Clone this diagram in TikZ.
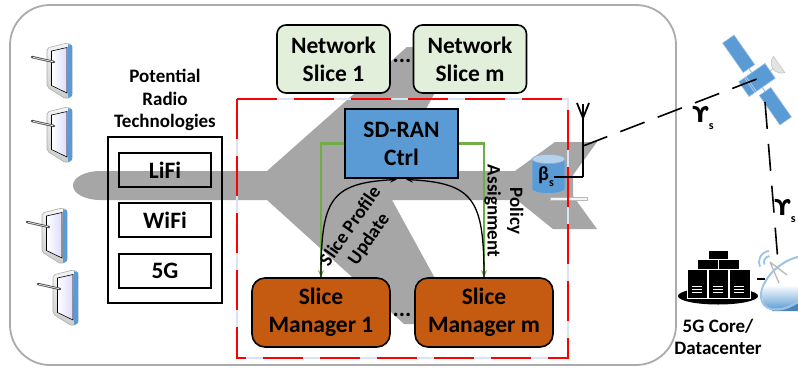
\documentclass[tikz,border=0pt]{standalone}
\usepackage{fontspec}
\setmainfont{Carlito}
\newfontfamily\greekfont{DejaVu Sans}
\usetikzlibrary{arrows.meta}
\definecolor{slicegreen}{HTML}{E2EFDA}
\definecolor{ctrlblue}{HTML}{5B9BD5}
\definecolor{mgrorange}{HTML}{C55A11}
\definecolor{linkgreen}{HTML}{70AD47}
\definecolor{planegray}{HTML}{A6A6A6}
\definecolor{framegray}{HTML}{ABABAB}
\definecolor{dashgap}{HTML}{DAE3F3}
\definecolor{lightblue}{HTML}{9DC3E6}
\definecolor{zonered}{HTML}{FF0000}

\tikzset{
  tabletpic/.pic={
    % device body
    \path[draw=gray!65, line width=0.6pt, top color=gray!8, bottom color=gray!40, rounded corners=2pt]
      (0,5) -- (20,0) -- (25,2) -- (25,53) -- (19,56) -- (0,44) -- cycle;
    \fill[ctrlblue] (21,1.2) -- (25,2.4) -- (25,53) -- (21,55) -- cycle;
    % screen
    \path[draw=black, line width=0.6pt, left color=white, right color=blue!14]
      (4.5,8) -- (20,4.5) -- (20,50) -- (4.5,42.5) -- cycle;
    % stylus
    \draw[gray!60!black, line width=2.4pt, line cap=round] (-15,14) -- (7,19);
    \draw[gray!25, line width=0.8pt] (-14,14.3) -- (6,18.7);
  }
}

\begin{document}
\begin{tikzpicture}[x=1pt,y=-1pt,
  boxfont/.style={font=\fontsize{23.5}{28}\selectfont\bfseries},
  labelfont/.style={font=\fontsize{19}{22.5}\selectfont\bfseries},
  slicebox/.style={boxfont, align=center, draw=black, line width=1.6pt, fill=slicegreen,
    rounded corners=9pt, minimum width=113pt, minimum height=68pt, inner sep=0pt},
  ctrlbox/.style={boxfont, align=center, draw=black, line width=1.4pt, fill=ctrlblue,
    minimum width=113pt, minimum height=69pt, inner sep=0pt},
  mgrbox/.style={boxfont, align=center, draw=black, line width=1.6pt, fill=mgrorange,
    rounded corners=13pt, minimum width=138pt, minimum height=69pt, inner sep=0pt},
  techbox/.style={boxfont, draw=black, line width=1.4pt, minimum width=92pt,
    minimum height=34pt, inner sep=0pt},
  groupbox/.style={draw=black, line width=1.4pt, minimum width=114pt,
    minimum height=166pt, inner sep=0pt},
  tag/.style={labelfont, align=center, inner sep=0pt},
  greenlink/.style={linkgreen, line width=2.2pt, -{Stealth[length=7pt,width=6pt]}},
  ctrllink/.style={black, line width=1.3pt, -{Stealth[length=7pt,width=5.5pt]}},
  radiolink/.style={black, line width=1.6pt, dash pattern=on 26pt off 14pt},
  upsfont/.style={font=\fontsize{22}{24}\selectfont\bfseries, inner sep=0pt},
]
\useasboundingbox (0,0) rectangle (798,370);
\fill[white] (0,0) rectangle (798,370);

% site frame
\draw[framegray, line width=1.8pt, rounded corners=40pt] (10,5) rectangle (676,365);

% aircraft silhouette
\fill[planegray] (100,171) -- (267,171) -- (407,47) -- (460,47) -- (392,171)
  -- (515,171) -- (555,142) -- (597,142) -- (573,175) -- (573,196)
  -- (597,229) -- (553,229) -- (517,200) -- (392,200) -- (460,324)
  -- (404,324) -- (267,200) -- (100,200)
  arc[start angle=90, end angle=270, x radius=27, y radius=14.5] -- cycle;
\filldraw[fill=gray!8, draw=gray!55, line width=0.6pt] (550,197) rectangle (587,200.5);

% SD-RAN zone
\draw[dashgap, line width=2.6pt] (237,99) rectangle (568,358);
\draw[zonered, line width=2.6pt, dash pattern=on 40pt off 17pt] (237,99) rectangle (568,358);

% tablets
\pic at (47,43) {tabletpic};
\pic at (47,107) {tabletpic};
\pic at (42,208) {tabletpic};
\pic at (53,270) {tabletpic};

% radio technologies
\node[tag] (radiotitle) at (165,100) {Potential\\Radio\\Technologies};
\node[groupbox] (radio) at (165,220) {};
\node[techbox] (lifi) at (165,170) {LiFi};
\node[techbox] (wifi) at (165,220) {WiFi};
\node[techbox] (fiveg) at (165,271) {5G};

% slices, controller and managers
\node[slicebox] (ns1) at (333.5,59) {Network\\Slice 1};
\node[slicebox] (nsm) at (470,59) {Network\\Slice m};
\node[boxfont, inner sep=0pt] (nsdots) at (402,61) {...};
\node[ctrlbox] (ctrl) at (401.5,143.5) {SD-RAN\\Ctrl};
\node[mgrbox] (sm1) at (321,312.5) {Slice\\Manager 1};
\node[mgrbox] (smm) at (484,312.5) {Slice\\Manager m};
\node[boxfont, inner sep=0pt] (smdots) at (402,315) {...};

% controller links
\draw[greenlink] (ctrl.west) -| (sm1.north);
\draw[greenlink] (ctrl.east) -| (smm.north);
\coordinate (ctrlinl) at (397,179.5);
\coordinate (ctrlinr) at (406,179.5);
\draw[ctrllink] (sm1.north) .. controls (321,200) and (330,183) .. (ctrlinl);
\draw[ctrllink] (smm.north) .. controls (484,200) and (474,183) .. (ctrlinr);
\node[tag, rotate=55] (profile) at (360,233) {Slice Profile\\Update};
\node[tag, rotate=-90] (policy) at (504,211) {Policy\\Assignment};

% slice storage and antenna
\fill[ctrlblue] (532,159) -- (532,189) arc[start angle=180, end angle=0, x radius=16.5, y radius=4.5] -- (565,159) -- cycle;
\draw[lightblue!70!gray, line width=0.6pt] (532,159) -- (532,189) arc[start angle=180, end angle=0, x radius=16.5, y radius=4.5] -- (565,159);
\filldraw[fill=ctrlblue!45!white, draw=lightblue!70!gray, line width=0.6pt] (548.5,159) ellipse[x radius=16.5, y radius=4.5];
\node[font=\fontsize{20}{20}\selectfont\bfseries, inner sep=0pt] (beta) at (546,177)
  {β\raisebox{-0.3em}{\fontsize{12}{12}\selectfont s}};
\coordinate (antbase) at (583,177);
\coordinate (anttop) at (583,104);
\coordinate (antmid) at (583,146);
\draw[line width=1.5pt] (beta.east) -- (antbase);
\draw[line width=2.6pt] (antbase) -- (anttop);
\draw[line width=1.8pt] (577,103) -- (583,118) -- (589,103);

% satellite
\begin{scope}[shift={(757,80)}, rotate=35]
  \draw[lightblue, line width=1pt] (0,-14) -- (0,14);
  \filldraw[fill=ctrlblue, draw=ctrlblue!60!white, line width=0.5pt] (-7,-50) rectangle (7,-14);
  \filldraw[fill=ctrlblue, draw=ctrlblue!60!white, line width=0.5pt] (-7,14) rectangle (7,50);
  \filldraw[fill=ctrlblue, draw=lightblue, line width=0.6pt] (-16,-9) rectangle (16,9);
  \draw[white!60!ctrlblue, line width=0.6pt] (-9,-9) -- (-9,9) (-7,-9) -- (-7,9);
  \draw[gray!50, line width=0.8pt] (16,0) -- (20,0);
  \filldraw[fill=gray!22, draw=gray!45, line width=0.6pt] (27,-10) .. controls (17,-6) and (17,6) .. (27,10) -- cycle;
\end{scope}
\coordinate (sat) at (762,77);
\coordinate (satlow) at (765,102);

% ground station and core
\fill[black] (718,296) ellipse[x radius=40, y radius=8.5];
\foreach \x/\y/\w/\h in {708/250/20/11, 697/259/21/12, 718/259/21/12,
                        687/269/20/29, 708/269/20/29, 729/269/21/29} {
  \filldraw[fill=black, draw=white, line width=0.8pt] (\x,\y) rectangle ++(\w,\h);
}
\foreach \x in {687,708,729} {
  \draw[white, line width=0.6pt] (\x+5,286) -- (\x+15,286) (\x+5,289) -- (\x+15,289) (\x+5,292) -- (\x+15,292);
}
\node[minimum width=64pt, minimum height=50pt, inner sep=0pt] (core) at (718,275) {};
\node[tag] (corelabel) at (718,337) {5G Core/\\Datacenter};

\begin{scope}
  \clip (740,230) rectangle (798,370);
  \fill[ctrlblue!85!black] (772,311) -- (781,299) -- (798,299) -- (798,311) -- cycle;
  \filldraw[fill=white, draw=lightblue, line width=2pt, rotate around={40:(790,283)}] (790,283) ellipse[x radius=34, y radius=20];
  \begin{scope}
    \clip[rotate around={40:(790,283)}] (790,283) ellipse[x radius=33, y radius=19];
    \shade[top color=white, bottom color=ctrlblue] (760,285) rectangle (800,310);
  \end{scope}
  \draw[gray!55, line width=1.3pt] (770,262) -- (779,283) (770,262) -- (787,275);
  \draw[lightblue, line width=1.8pt] (770,262) ++(-95:6) arc[start angle=-95, end angle=-205, radius=6];
  \draw[lightblue, line width=1.8pt] (770,262) ++(-95:11) arc[start angle=-95, end angle=-205, radius=11];
\end{scope}
\coordinate (dishtop) at (778,262);
\coordinate (corelink) at (757,279);
\coordinate (dishlink) at (765,279);
\draw[line width=1.3pt] (corelink) -- (dishlink);

% radio links
\draw[radiolink] (antmid) -- (sat);
\draw[radiolink, dash pattern=on 27pt off 15pt] (satlow) -- (dishtop);
\node[upsfont] (ups1) at (703,118)
  {{\greekfont ϒ}\raisebox{-0.3em}{\fontsize{12}{12}\selectfont s}};
\node[upsfont] (ups2) at (785,211)
  {{\greekfont ϒ}\raisebox{-0.3em}{\fontsize{12}{12}\selectfont s}};
\end{tikzpicture}
\end{document}
